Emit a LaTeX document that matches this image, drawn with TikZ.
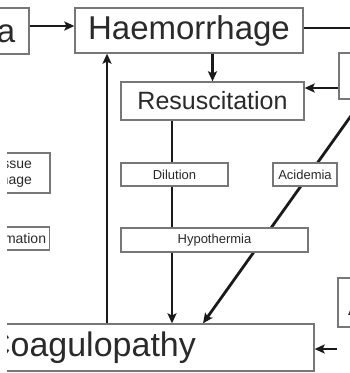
\documentclass[tikz,border=0pt]{standalone}
\usepackage{fontspec}
\setmainfont{Liberation Sans}
\usetikzlibrary{arrows.meta,backgrounds}
\definecolor{ink}{HTML}{1A1A1A}
\definecolor{frame}{HTML}{777777}
\definecolor{label}{HTML}{2A2A2A}
\tikzset{
  box/.style={draw=frame, line width=1.3pt, fill=white, text=label, inner sep=0pt},
  bigtext/.style={font=\fontsize{33}{38}\selectfont},
  midtext/.style={font=\fontsize{25}{30}\selectfont},
  smalltext/.style={font=\fontsize{13}{16}\selectfont},
  sidetext/.style={font=\fontsize{14}{16}\selectfont},
  flow/.style={draw=ink, line width=2.8pt, -{Stealth[length=10pt,width=9pt,inset=2pt]}},
  link/.style={draw=ink, line width=2.8pt},
}
\begin{document}
\begin{tikzpicture}[x=1pt,y=-1pt]
\useasboundingbox (0,0) rectangle (350,373);
% visible area: a narrow blank strip runs down the left side below the top row
\clip (0,0) -- (350,0) -- (350,373) -- (7,373) -- (7,60) -- (0,60) -- cycle;

% boxes
\node[box, bigtext, minimum width=140pt, minimum height=46pt] (trauma) at (-41,31) {Trauma};
\node[box, bigtext, minimum width=228pt, minimum height=45pt] (haem) at (189,30.5) {Haemorrhage};
\node[box, midtext, minimum width=183pt, minimum height=38pt] (resus) at (212.5,101) {Resuscitation};
\node[box, smalltext, minimum width=107pt, minimum height=23pt] (dil) at (174.5,174.5) {Dilution};
\node[box, smalltext, minimum width=64pt, minimum height=23pt] (acid) at (305,174.5) {Acidemia};
\node[box, smalltext, minimum width=187pt, minimum height=24pt] (hypo) at (214.5,240) {Hypothermia};
\node[box, sidetext, align=right, text width=60pt, inner xsep=18pt, minimum height=40pt] (tissue) at (2,173) {Tissue\\damage};
\node[box, sidetext, inner xsep=3.5pt, minimum height=23pt] (infl) at (6,238.5) {Inflammation};
\node[box, font=\fontsize{34}{40}\selectfont, minimum width=446pt, minimum height=47pt] (coag) at (91,347.5) {Coagulopathy};
\node[box, minimum width=100pt, minimum height=46pt] (upper) at (389,76) {};
\node[box, minimum width=100pt, minimum height=49pt] (lower) at (388,302.5) {};
\node[bigtext, text=label, inner sep=0pt, anchor=base west] (lowtext) at (348,315) {A};

% connector guide coordinates
\coordinate (rowA) at (0,26);
\coordinate (rowB) at (0,88);
\coordinate (rowC) at (0,349);
\coordinate (colA) at (172,0);
\coordinate (colB) at (107,0);
\coordinate (colC) at (203,0);
\coordinate (offright) at (360,28);
\coordinate (diagtop) at (363,99);

\begin{pgfonlayer}{background}
  \fill[white] (0,0) rectangle (350,373);
  \draw[flow] (trauma.east |- rowA) -- (haem.west |- rowA);
  \draw[link] (haem.east |- offright) -- (offright);
  \draw[flow] (haem.south -| resus) -- (resus.north);
  \draw[flow] (upper.west |- rowB) -- (resus.east |- rowB);
  \draw[flow] (resus.south -| colA) -- (coag.north -| colA);
  \draw[flow] (coag.north -| colB) -- (haem.south -| colB);
  \draw[flow] (diagtop) -- (coag.north -| colC);
  \draw[flow] (lower.west |- rowC) -- (coag.east |- rowC);
\end{pgfonlayer}
\end{tikzpicture}
\end{document}
